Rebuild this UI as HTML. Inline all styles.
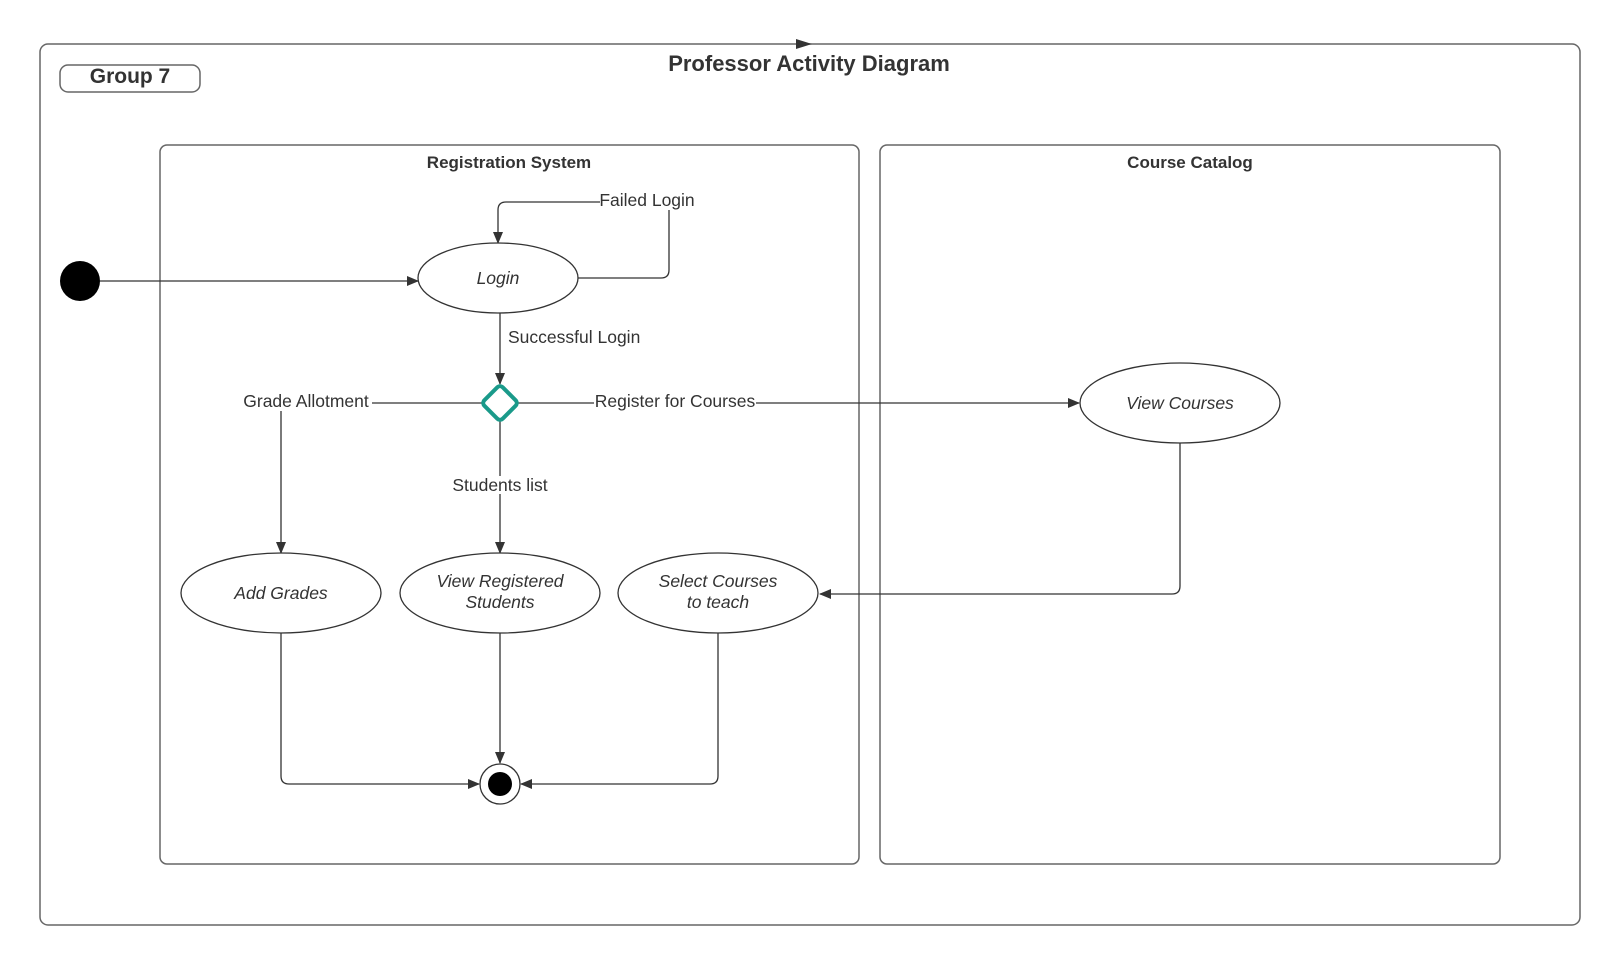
<!DOCTYPE html>
<html><head><style>body{margin:0;background:#fff}svg{display:block}</style></head><body>
<svg width="1620" height="965" xmlns="http://www.w3.org/2000/svg" font-family="Liberation Sans, sans-serif" fill="#333">
<defs><marker id="a" markerWidth="12" markerHeight="10" refX="11" refY="5" orient="auto" markerUnits="userSpaceOnUse"><path d="M0,0 L12,5 L0,10 Z" fill="#333"/></marker></defs>
<g fill="none" stroke="#666" stroke-width="1.5">
<rect x="40" y="44" width="1540" height="881" rx="8"/>
<rect x="60" y="65" width="140" height="27" rx="8"/>
<rect x="160" y="145" width="699" height="719" rx="7"/>
<rect x="880" y="145" width="620" height="719" rx="7"/>
</g>
<path d="M796,39 L812,44 L796,49 Z" fill="#333"/>
<text x="809" y="71" text-anchor="middle" font-size="22" font-weight="bold">Professor Activity Diagram</text>
<text x="130" y="83" text-anchor="middle" font-size="21" font-weight="bold">Group 7</text>
<text x="509" y="168" text-anchor="middle" font-size="17" font-weight="bold">Registration System</text>
<text x="1190" y="168" text-anchor="middle" font-size="17" font-weight="bold">Course Catalog</text>
<circle cx="80" cy="281" r="20" fill="#000"/>
<g fill="none" stroke="#333" stroke-width="1.3">
<path d="M100,281 H418" marker-end="url(#a)"/>
<path d="M578,278 H661 Q669,278 669,270 V210 Q669,202 661,202 H506 Q498,202 498,210 V243" marker-end="url(#a)"/>
<path d="M500,313 V384" marker-end="url(#a)"/>
<path d="M482,403 H281 V553" marker-end="url(#a)"/>
<path d="M518,403 H1079" marker-end="url(#a)"/>
<path d="M500,421 V553" marker-end="url(#a)"/>
<path d="M1180,443 V586 Q1180,594 1172,594 H820" marker-end="url(#a)"/>
<path d="M281,633 V776 Q281,784 289,784 H479" marker-end="url(#a)"/>
<path d="M500,633 V763" marker-end="url(#a)"/>
<path d="M718,633 V776 Q718,784 710,784 H521" marker-end="url(#a)"/>
</g>
<g fill="#fff" stroke="#333" stroke-width="1.3">
<ellipse cx="498" cy="278" rx="80" ry="35"/>
<ellipse cx="1180" cy="403" rx="100" ry="40"/>
<ellipse cx="281" cy="593" rx="100" ry="40"/>
<ellipse cx="500" cy="593" rx="100" ry="40"/>
<ellipse cx="718" cy="593" rx="100" ry="40"/>
<circle cx="500" cy="784" r="20"/>
</g>
<circle cx="500" cy="784" r="12" fill="#000"/>
<rect x="487" y="390" width="26" height="26" rx="4" transform="rotate(45 500 403)" fill="#fff" stroke="#1a9a8a" stroke-width="4"/>
<g font-size="17.5">
<rect x="600" y="190" width="96" height="20" fill="#fff"/>
<text x="647" y="206" text-anchor="middle">Failed Login</text>
<text x="508" y="343">Successful Login</text>
<rect x="242" y="391" width="130" height="20" fill="#fff"/>
<text x="306" y="407" text-anchor="middle">Grade Allotment</text>
<rect x="594" y="391" width="162" height="20" fill="#fff"/>
<text x="675" y="407" text-anchor="middle">Register for Courses</text>
<rect x="450" y="476" width="100" height="18" fill="#fff"/>
<text x="500" y="491" text-anchor="middle">Students list</text>
</g>
<g font-size="17.5" font-style="italic" text-anchor="middle">
<text x="498" y="284">Login</text>
<text x="1180" y="409">View Courses</text>
<text x="281" y="599">Add Grades</text>
<text x="500" y="587">View Registered</text>
<text x="500" y="608">Students</text>
<text x="718" y="587">Select Courses</text>
<text x="718" y="608">to teach</text>
</g>
</svg>
</body></html>
